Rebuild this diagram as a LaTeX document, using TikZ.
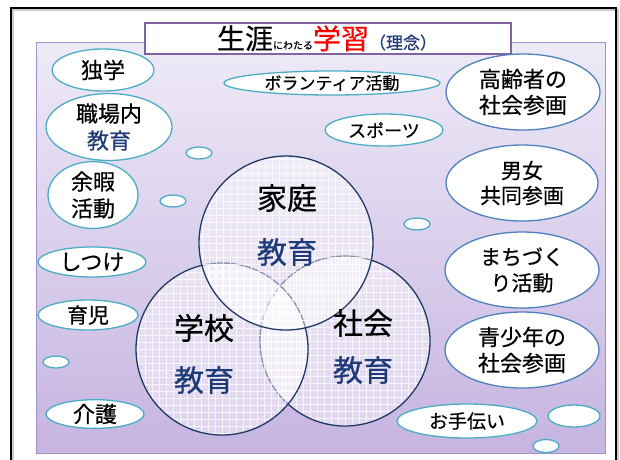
\documentclass[tikz,border=0pt]{standalone}
\usepackage{fontspec}
\setmainfont{Noto Sans CJK JP}[FakeBold=0.5]
\usetikzlibrary{shapes.geometric}
\definecolor{bubteal}{HTML}{4BACC6}
\definecolor{bubblue}{HTML}{4F81BD}
\definecolor{panelborder}{HTML}{A38FC8}
\definecolor{titleborder}{HTML}{8064A2}
\definecolor{navytext}{HTML}{1F3A78}
\definecolor{circleline}{HTML}{1F3864}
\definecolor{paneltop}{HTML}{EEEAF7}
\definecolor{panelbot}{HTML}{C6B4E1}
\newcommand\fsz[2]{\fontsize{#1}{#2}\selectfont}
\tikzset{
  bub/.style={ellipse, draw=bubteal, line width=1.3pt, fill=white, inner sep=0pt, align=center},
  bigbub/.style={bub, draw=bubblue},
  venn/.style={circle, draw=circleline, line width=1.3pt, fill=white, fill opacity=0.45, inner sep=0pt,
    path picture={\draw[white, line width=0.7pt, draw opacity=0.75]
      (path picture bounding box.south west) grid[step=7pt] (path picture bounding box.north east);}},
  venntxt/.style={inner sep=0pt, font=\fsz{30}{36}},
}
\begin{document}
\begin{tikzpicture}[x=1pt,y=-1pt]
\useasboundingbox (0,0) rectangle (620,459);
% outer frame
\draw[gray!40, line width=1.5pt] (13,470) -- (13,10) -- (618,10) -- (618,470);
\draw[black, line width=2pt] (11,470) -- (11,8) -- (616,8) -- (616,470);
% panel
\node[draw=panelborder, line width=0.8pt, top color=paneltop, bottom color=panelbot, middle color=paneltop!50!panelbot,
  minimum width=569pt, minimum height=411pt, inner sep=0pt] (panel) at (320.5,247.5) {};
% title
\node[draw=titleborder, line width=1.5pt, fill=white, minimum width=366pt, minimum height=31pt, inner sep=0pt] (titlebox) at (328,38.5) {};
\node[anchor=base, inner sep=0pt] (titletext) at (327,49)
  {{\fsz{28}{30}生涯}{\fsz{10}{12}にわたる}{\fsz{28}{30}\textcolor{red}{学習}}{\fsz{17}{18}\textcolor{navytext}{（理念）}}};
% venn circles
\node[venn, minimum size=170pt] (shakai) at (345,341) {};
\node[venn, minimum size=172pt] (gakko) at (222,349) {};
\node[venn, minimum size=174pt] (katei) at (286,243) {};
\node[venntxt] (kateiA) at (287,198) {家庭};
\node[venntxt, text=navytext] (kateiB) at (287,252) {教育};
\node[venntxt] (gakkoA) at (204,328) {学校};
\node[venntxt, text=navytext] (gakkoB) at (204,380) {教育};
\node[venntxt] (shakaiA) at (363,323) {社会};
\node[venntxt, text=navytext] (shakaiB) at (363,370) {教育};
% left bubbles
\node[bub, minimum width=102pt, minimum height=42pt, font=\fsz{22}{27}] (dokugaku) at (103,70) {独学};
\node[bub, minimum width=126pt, minimum height=58pt, font=\fsz{22}{27}] (shokuba) at (109,127) {職場内\\\textcolor{navytext}{教育}};
\node[bub, minimum width=90pt, minimum height=58pt, font=\fsz{22}{27}] (yoka) at (93,195) {余暇\\活動};
\node[bub, minimum width=108pt, minimum height=30pt, font=\fsz{22}{27}] (shitsuke) at (92,262) {しつけ};
\node[bub, minimum width=100pt, minimum height=30pt, font=\fsz{21}{27}] (ikuji) at (88,315) {育児};
\node[bub, minimum width=98pt, minimum height=28pt, font=\fsz{22}{27}] (kaigo) at (95,414) {介護};
% middle bubbles
\node[bub, minimum width=216pt, minimum height=24pt, font=\fsz{17}{20}] (volunteer) at (332,83) {ボランティア活動};
\node[bub, minimum width=118pt, minimum height=32pt, font=\fsz{18}{22}] (sports) at (384,130) {スポーツ};
\node[bub, minimum width=140pt, minimum height=34pt, font=\fsz{19}{24}] (otetsudai) at (467,421) {お手伝い};
% right bubbles
\node[bigbub, minimum width=154pt, minimum height=76pt, font=\fsz{22}{26}] (koreisha) at (523,92) {高齢者の\\社会参画};
\node[bigbub, minimum width=152pt, minimum height=76pt, font=\fsz{21}{25}] (danjo) at (522,183) {男女\\共同参画};
\node[bigbub, minimum width=154pt, minimum height=76pt, font=\fsz{21}{26}] (machi) at (522,270) {まちづく\\り活動};
\node[bigbub, minimum width=154pt, minimum height=76pt, font=\fsz{22}{26}] (seishonen) at (522,350) {青少年の\\社会参画};
% small bubbles
\node[bub, minimum width=26pt, minimum height=12pt] (s1) at (199,153) {};
\node[bub, minimum width=26pt, minimum height=12pt] (s2) at (173,201) {};
\node[bub, minimum width=26pt, minimum height=12pt] (s3) at (417,224) {};
\node[bub, minimum width=26pt, minimum height=12pt] (s4) at (56,362) {};
\node[bub, minimum width=52pt, minimum height=22pt] (s5) at (574,416) {};
\node[bub, minimum width=26pt, minimum height=13pt] (s6) at (546,446) {};
\end{tikzpicture}
\end{document}
